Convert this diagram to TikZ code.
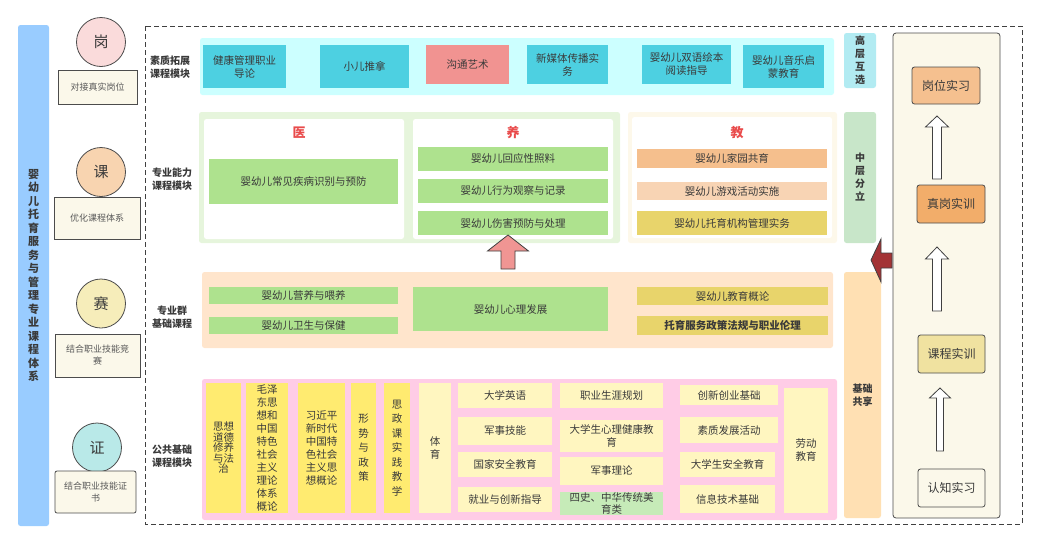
\documentclass[tikz,border=0pt]{standalone}
\usepackage{fontspec}
\setmainfont{Noto Sans CJK SC}
\definecolor{txt}{HTML}{3A3A3A}
\definecolor{bluebar}{HTML}{99CCFF}
\definecolor{cyanband}{HTML}{CCFFFF}
\definecolor{cyanbox}{HTML}{4DD0E1}
\definecolor{salmon}{HTML}{F19391}
\definecolor{gaoceng}{HTML}{B2EBF2}
\definecolor{greenband}{HTML}{E6F5DC}
\definecolor{zhongceng}{HTML}{C8E6C9}
\definecolor{greenbox}{HTML}{AEE28E}
\definecolor{creamband}{HTML}{FDF8EA}
\definecolor{orangeA}{HTML}{F5BF8D}
\definecolor{orangeB}{HTML}{F8D4B4}
\definecolor{gold}{HTML}{E8D46B}
\definecolor{peachband}{HTML}{FFE5CC}
\definecolor{jichu}{HTML}{FFE0B3}
\definecolor{pinkband}{HTML}{FFCCE6}
\definecolor{yelA}{HTML}{FFEB70}
\definecolor{yelB}{HTML}{FFF6C0}
\definecolor{lgreen}{HTML}{C6EBB8}
\definecolor{cream}{HTML}{FBF8EA}
\definecolor{gangbox}{HTML}{F5C08F}
\definecolor{zgbox}{HTML}{F2AD6A}
\definecolor{kcbox}{HTML}{F0E2A0}
\definecolor{darkred}{HTML}{A33335}
\definecolor{pinkarrow}{HTML}{F09593}
\definecolor{redtitle}{HTML}{E94B4B}
\definecolor{cgang}{HTML}{FADBDB}
\definecolor{cke}{HTML}{F8D4B0}
\definecolor{csai}{HTML}{F6EDBA}
\definecolor{czheng}{HTML}{B9E9E8}
\newcommand\R[8][]{\node[bx,#1,fill=#7,minimum width={#5pt-#3pt},minimum height={#6pt-#4pt}] (#2) at ({(#3+#5)/2},{(#4+#6)/2}) {#8};}
\newcommand\blkup[7]{\draw[arrowline,fill=#7] (#1,#2) -- ({#1+#5},#3) -- ({#1+#6},#3) -- ({#1+#6},#4) -- ({#1-#6},#4) -- ({#1-#6},#3) -- ({#1-#5},#3) -- cycle;}
\begin{document}
\begin{tikzpicture}[x=1pt,y=-1pt,
  bx/.style={draw=none,inner sep=1pt,align=center,text=txt,font=\fontsize{10.5}{13}\selectfont},
  band/.style={rounded corners=2.5pt},
  lbl/.style={align=center,text=txt,font=\bfseries\fontsize{10}{13}\selectfont},
  vlbl/.style={align=center,text=txt,font=\bfseries\fontsize{10}{13}\selectfont},
  tiny/.style={bx,draw=black!70,line width=0.8pt,fill=cream,text=black!65,font=\fontsize{9}{12}\selectfont},
  circ/.style={circle,draw=black!70,line width=0.8pt,minimum size=49pt,inner sep=0pt,text=txt,font=\fontsize{15}{15}\selectfont},
  pbox/.style={draw=black!70,line width=0.8pt,rounded corners=2.5pt,font=\fontsize{12}{14}\selectfont},
  arrowline/.style={draw=black!75,line width=0.8pt,line join=miter},
  title/.style={text=redtitle,font=\bfseries\fontsize{13}{13}\selectfont}]
\useasboundingbox (0,0) rectangle (1039,544);
% left blue bar
\R[band,font=\bfseries\fontsize{11}{13.5}\selectfont]{bar}{18}{25}{49}{526}{bluebar}{婴\\幼\\儿\\托\\育\\服\\务\\与\\管\\理\\专\\业\\课\\程\\体\\系}
% circles and small boxes
\node[circ,fill=cgang] (cgang) at (101,42) {岗};
\R[tiny]{tgang}{58}{70}{137}{104}{cream}{对接真实岗位}
\node[circ,fill=cke] (cke) at (101,172) {课};
\R[tiny]{tke}{54}{197}{140}{239}{cream}{优化课程体系}
\node[circ,fill=csai] (csai) at (101,303.5) {赛};
\R[tiny]{tsai}{55}{334}{140}{377}{cream}{结合职业技能竞\\赛}
\node[circ,fill=czheng] (czheng) at (97,447.5) {证};
\R[tiny,rounded corners=2pt]{tzheng}{55}{471}{136}{513}{cream}{结合职业技能证\\书}
% dashed frame
\draw[draw=black!75,line width=0.9pt,dash pattern=on 5pt off 3pt] (145,26) rectangle (1022,524);
% row labels
\node[lbl] (l1) at (170,67) {素质拓展\\课程模块};
\node[lbl] (l2) at (172,179) {专业能力\\课程模块};
\node[lbl] (l3) at (172,317) {专业群\\基础课程};
\node[lbl] (l4) at (172,456) {公共基础\\课程模块};
% top row
\R[band]{topband}{200}{38}{834}{95}{cyanband}{}
\R{t1}{203}{45}{286}{88}{cyanbox}{健康管理职业\\导论}
\R{t2}{320}{45}{409}{88}{cyanbox}{小儿推拿}
\R{t3}{426}{45}{509}{84}{salmon}{沟通艺术}
\R{t4}{527}{45}{608}{84}{cyanbox}{新媒体传播实\\务}
\R{t5}{642}{45}{731}{84}{cyanbox}{婴幼儿双语绘本\\阅读指导}
\R{t6}{743}{45}{824}{88}{cyanbox}{婴幼儿音乐启\\蒙教育}
% right vertical labels
\R[band,vlbl]{gc}{844}{33}{876}{88}{gaoceng}{高\\层\\互\\选}
\R[band,vlbl]{zc}{844}{112}{876}{243}{zhongceng}{中\\层\\分\\立}
\R[band,vlbl]{jc}{844}{272}{881}{518}{jichu}{基础\\共享}
% second row
\R[band]{gband}{199}{112}{620}{243}{greenband}{}
\R[band]{wyi}{204}{119}{404}{239}{white}{}
\R[band]{wyang}{413}{119}{613}{239}{white}{}
\R[band]{jband}{628}{112}{837}{243}{creamband}{}
\R[band]{wjiao}{632}{117}{832}{238}{white}{}
\node[title] (hyi) at (299,133) {医};
\node[title] (hyang) at (513,133) {养};
\node[title] (hjiao) at (737,133) {教};
\R{y1}{209}{159}{398}{204}{greenbox}{婴幼儿常见疾病识别与预防}
\R{g1}{418}{147}{608}{171}{greenbox}{婴幼儿回应性照料}
\R{g2}{418}{179}{608}{203}{greenbox}{婴幼儿行为观察与记录}
\R{g3}{418}{211}{608}{235}{greenbox}{婴幼儿伤害预防与处理}
\R{j1}{637}{149}{827}{168}{orangeA}{婴幼儿家园共育}
\R{j2}{637}{182}{827}{200}{orangeB}{婴幼儿游戏活动实施}
\R{j3}{637}{211}{827}{235}{gold}{婴幼儿托育机构管理实务}
% third row
\R[band]{pband}{202}{272}{833}{348}{peachband}{}
\R{p1}{209}{287}{398}{304}{greenbox}{婴幼儿营养与喂养}
\R{p2}{209}{317}{398}{334}{greenbox}{婴幼儿卫生与保健}
\R{p3}{413}{287}{608}{331}{greenbox}{婴幼儿心理发展}
\R{p4}{637}{287}{828}{305}{gold}{婴幼儿教育概论}
\R[font=\bfseries\fontsize{10.5}{13}\selectfont]{p5}{637}{316}{828}{335}{gold}{托育服务政策法规与职业伦理}
% pink up arrow
\blkup{508}{235}{251}{269}{20.5}{7}{pinkarrow}
% bottom row
\R[band]{kband}{202}{379}{837}{520}{pinkband}{}
\R[font=\fontsize{10.5}{10.5}\selectfont]{b1}{206}{383}{241}{513}{yelA}{思想\\道德\\修养\\与法\\治}
\R[font=\fontsize{10.5}{13}\selectfont]{b2}{246}{383}{288}{513}{yelA}{毛泽\\东思\\想和\\中国\\特色\\社会\\主义\\理论\\体系\\概论}
\R{b3}{298}{383}{345}{513}{yelA}{习近平\\新时代\\中国特\\色社会\\主义思\\想概论}
\R[font=\fontsize{10.5}{14.5}\selectfont]{b4}{351}{383}{376}{513}{yelA}{形\\势\\与\\政\\策}
\R[font=\fontsize{10.5}{14.5}\selectfont]{b5}{384}{383}{410}{513}{yelA}{思\\政\\课\\实\\践\\教\\学}
\R{b6}{419}{383}{451}{513}{yelB}{体\\育}
\R{c11}{458}{383}{552}{408}{yelB}{大学英语}
\R{c12}{458}{417}{552}{445}{yelB}{军事技能}
\R{c13}{458}{452}{552}{477}{yelB}{国家安全教育}
\R{c14}{458}{487}{552}{512}{yelB}{就业与创新指导}
\R{c21}{560}{383}{663}{408}{yelB}{职业生涯规划}
\R{c22}{560}{420}{663}{452}{yelB}{大学生心理健康教\\育}
\R{c23}{560}{457}{663}{485}{yelB}{军事理论}
\R[font=\fontsize{10.5}{12}\selectfont]{c24}{560}{492}{663}{515}{lgreen}{四史、中华传统美\\育类}
\R{c31}{680}{385}{778}{405}{yelB}{创新创业基础}
\R{c32}{680}{417}{778}{443}{yelB}{素质发展活动}
\R{c33}{680}{452}{775}{477}{yelB}{大学生安全教育}
\R{c34}{680}{485}{775}{513}{yelB}{信息技术基础}
\R{c4}{784}{388}{828}{513}{yelB}{劳动\\教育}
% right panel
\R[draw=black!70,line width=0.8pt,rounded corners=3pt]{panel}{893}{33}{1000}{518}{cream}{}
\R[pbox]{r1}{912}{67}{980}{104}{gangbox}{岗位实习}
\R[pbox]{r2}{917}{185}{985}{223}{zgbox}{真岗实训}
\R[pbox]{r3}{918}{335}{985}{373}{kcbox}{课程实训}
\R[pbox]{r4}{918}{469}{985}{507}{cream}{认知实习}
\blkup{937}{116}{127}{179}{11.5}{4.5}{white}
\blkup{937}{247}{259}{311}{11.5}{4.5}{white}
\blkup{940}{388}{398}{451}{10.5}{3.5}{white}
% dark red left arrow
\draw[arrowline,fill=darkred] (871,260) -- (881,239) -- (881,253) -- (892,253) -- (892,268) -- (881,268) -- (881,282) -- cycle;
\end{tikzpicture}
\end{document}
